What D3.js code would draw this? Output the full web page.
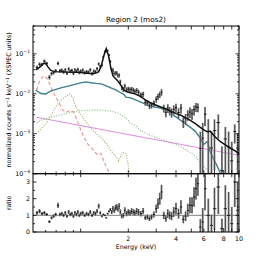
<!DOCTYPE html>
<html><head><meta charset="utf-8">
<script src="https://cdn.jsdelivr.net/npm/d3@7"></script>
<style>body{margin:0;background:#fff}svg{display:block}text{font-family:"DejaVu Sans",sans-serif}</style>
</head><body><svg id="c" width="266" height="266"></svg>
<script>
// ---- data ----
const energy = [0.53,0.55,0.57,0.59,0.61,0.635,0.655,0.675,0.695,0.72,0.74,0.76,0.78,0.80,0.82,0.84,0.86,0.88,0.90,0.92,0.94,0.96,0.98,1.00,1.03,1.06,1.09,1.12,1.15,1.18,1.21,1.24,1.27,1.30,1.33,1.36,1.39,1.42,1.45,1.48,1.51,1.54,1.57,1.60,1.63,1.66,1.69,1.72,1.75,1.78,1.82,1.86,1.90,1.95,2.00,2.05,2.10,2.15,2.20,2.26,2.32,2.40,2.48,2.56,2.64,2.72,2.80,2.90,3.00,3.08,3.16,3.24,3.35,3.45,3.55,3.65,3.75,3.87,4.00,4.15,4.30,4.45,4.60,4.75,4.90,5.05,5.20,5.35,5.50,5.70,5.90,6.10,6.40,6.70,7.00,7.40,7.80,8.20,8.60,9.00,9.40,9.80];
const flux = [0.046,0.055,0.055,0.066,0.058,0.026,0.032,0.034,0.038,0.058,0.038,0.039,0.0355,0.040,0.033,0.042,0.037,0.0385,0.033,0.040,0.037,0.041,0.0345,0.037,0.039,0.034,0.036,0.035,0.040,0.032,0.037,0.036,0.0425,0.056,0.049,0.052,0.084,0.115,0.115,0.121,0.094,0.065,0.041,0.039,0.0325,0.033,0.033,0.029,0.029,0.020,0.0143,0.013,0.0156,0.0127,0.0132,0.0127,0.0131,0.0124,0.0115,0.0121,0.011,0.0094,0.0098,0.0060,0.0059,0.0050,0.0052,0.0058,0.0073,0.0085,0.0096,0.011,0.0044,0.0034,0.0044,0.0038,0.0034,0.0041,0.0045,0.0034,0.0044,0.0020,0.0024,0.0030,0.0035,0.0032,0.0040,0.0047,0.0046,0.00043,0.00078,0.0031,0.00115,0.00044,0.0012,0.0019,0.00012,0.00074,0.00047,0.00021,0.00114,0.00044];
const ratio = [1.15,1.25,1.10,1.15,1.05,0.62,0.85,0.95,1.05,1.60,1.05,1.10,1.00,1.15,0.95,1.20,1.05,1.10,0.95,1.15,1.05,1.20,1.00,1.10,1.15,1.00,1.10,1.05,1.20,1.00,1.15,1.10,1.25,1.55,1.15,0.95,1.05,1.00,0.85,1.10,1.25,1.35,1.20,1.40,1.30,1.45,1.50,1.40,1.55,1.20,0.95,1.00,1.30,1.10,1.20,1.15,1.25,1.20,1.15,1.25,1.20,1.10,1.25,0.85,0.90,0.80,0.90,1.05,1.40,1.70,2.00,2.40,1.00,0.80,1.10,1.00,0.95,1.20,1.40,1.10,1.50,0.75,0.95,1.30,1.60,1.60,2.10,2.60,2.90,0.30,0.60,2.60,1.00,0.40,1.40,2.70,0.20,1.40,1.00,0.50,3.00,1.30];
const relErr = [0.10,0.10,0.09,0.09,0.09,0.12,0.10,0.10,0.10,0.10,0.10,0.10,0.10,0.10,0.10,0.10,0.10,0.10,0.10,0.10,0.10,0.10,0.10,0.10,0.10,0.10,0.10,0.10,0.10,0.10,0.10,0.10,0.10,0.09,0.08,0.07,0.06,0.05,0.05,0.05,0.06,0.07,0.10,0.12,0.12,0.12,0.12,0.12,0.12,0.13,0.14,0.14,0.14,0.14,0.14,0.14,0.14,0.14,0.14,0.15,0.15,0.15,0.15,0.16,0.16,0.17,0.17,0.17,0.18,0.18,0.18,0.18,0.22,0.24,0.24,0.24,0.25,0.25,0.25,0.27,0.27,0.30,0.30,0.30,0.30,0.30,0.28,0.25,0.25,1.6,1.4,0.5,1.0,1.6,0.9,0.6,3.0,1.0,1.4,2.0,0.5,1.3];

const totalModel = [[0.52,0.040],[0.55,0.046],[0.58,0.057],[0.60,0.058],[0.62,0.048],[0.645,0.039],[0.68,0.036],[0.8,0.035],[0.95,0.0345],[1.1,0.033],[1.2,0.032],[1.27,0.034],[1.3,0.036],[1.35,0.050],[1.4,0.090],[1.45,0.135],[1.5,0.090],[1.55,0.045],[1.6,0.028],[1.7,0.022],[1.8,0.016],[1.85,0.0135],[1.9,0.012],[2.0,0.011],[2.2,0.010],[2.4,0.0085],[2.6,0.0068],[2.8,0.0058],[3.0,0.0052],[3.2,0.0047],[3.5,0.0041],[3.7,0.0037],[4.0,0.0032],[4.3,0.0029],[4.6,0.0025],[4.9,0.0022],[5.3,0.0018],[5.7,0.00144],[6.0,0.00125],[6.3,0.00112],[6.6,0.00115],[6.8,0.00100],[7.0,0.00087],[7.6,0.00064],[8.2,0.00053],[8.8,0.00044],[9.4,0.00038],[10,0.00032]];
const warmModel = [[0.52,0.0125],[0.56,0.0102],[0.60,0.0099],[0.65,0.0119],[0.75,0.0141],[0.87,0.0163],[1.0,0.0188],[1.08,0.0199],[1.16,0.019],[1.25,0.0183],[1.35,0.0178],[1.45,0.0158],[1.55,0.0141],[1.67,0.0125],[1.8,0.0105],[1.88,0.0096],[1.93,0.0083],[2.07,0.0079],[2.4,0.0062],[2.77,0.0049],[3.2,0.0044],[3.7,0.0033],[4.27,0.0022],[4.93,0.00145],[5.3,0.00115],[5.7,0.00077],[6.0,0.00054],[6.3,0.00064],[6.6,0.00034],[7.1,0.00019],[7.6,0.000107],[7.8,0.00009]];
const coolModel1 = [[0.526,0.0125],[0.55,0.020],[0.58,0.028],[0.61,0.0253],[0.64,0.0168],[0.675,0.0106],[0.73,0.0059],[0.77,0.0039],[0.81,0.0035],[0.87,0.0039],[0.91,0.0033],[0.98,0.00155],[1.04,0.00087],[1.11,0.00055],[1.19,0.00041],[1.28,0.00029],[1.345,0.00032],[1.41,0.00019],[1.49,0.00012],[1.52,0.00008]];
const coolModel2 = [[0.526,0.00101],[0.565,0.00137],[0.608,0.00183],[0.653,0.0031],[0.70,0.0049],[0.755,0.0070],[0.81,0.0088],[0.85,0.0099],[0.89,0.0083],[0.92,0.0053],[0.98,0.0035],[1.05,0.0023],[1.13,0.00155],[1.21,0.00115],[1.345,0.0008],[1.445,0.00058],[1.55,0.00038],[1.67,0.00027],[1.74,0.00021],[1.84,0.00034],[1.93,0.00032],[1.99,0.00018],[2.03,0.00008]];
const hotModel = [[0.526,0.0019],[0.565,0.0022],[0.63,0.0025],[0.70,0.0028],[0.78,0.0031],[0.87,0.0035],[1.007,0.0038],[1.164,0.0039],[1.345,0.0039],[1.553,0.0037],[1.72,0.0033],[1.93,0.0025],[2.07,0.0018],[2.23,0.0016],[2.4,0.0012],[2.64,0.00097],[2.97,0.00082],[3.34,0.00069],[3.8,0.00058],[4.27,0.00048],[4.93,0.00034],[5.38,0.00026],[5.7,0.00018],[6.13,0.00014],[6.58,0.000105],[6.8,0.00008]];
const powerLaw = [[0.526,0.0026],[2.07,0.00093],[10,0.00029]];

const xTickVals = [1,2,3,4,5,6,7,8,9,10];
const xTickLabels = ["","2","","4","","6","","8","","10"];
const yMainTicks = [1e-4,1e-3,1e-2,1e-1];
const yMainExp = ["-4","-3","-2","-1"];
const yRatioTicks = [0,1,2,3];
const title = "Region 2 (mos2)";

// ---- layout ----
const L=33, R=239, T=26, MB=173.7, RB=232;
const svg = d3.select("#c");
const x = d3.scaleLog().domain([0.5,10]).range([L,R]);
const y = d3.scaleLog().domain([1e-4,0.5]).range([MB,T]).clamp(true);
const yr = d3.scaleLinear().domain([0,3.5]).range([RB,MB]).clamp(true);

const defs = svg.append("defs");
defs.append("clipPath").attr("id","cm").append("rect").attr("x",L).attr("y",T).attr("width",R-L).attr("height",MB-T);
defs.append("clipPath").attr("id","cr").append("rect").attr("x",L).attr("y",MB).attr("width",R-L).attr("height",RB-MB);

const gm = svg.append("g").attr("clip-path","url(#cm)");
const gr = svg.append("g").attr("clip-path","url(#cr)");

const line = d3.line().x(d=>x(d[0])).y(d=>y(d[1]));
function model(data, color, w, dash){
  gm.append("path").datum(data).attr("d",line).attr("fill","none").attr("stroke",color).attr("stroke-width",w).attr("stroke-dasharray",dash||null);
}
model(powerLaw,"#dd8ee0",1.1);
model(hotModel,"#86b886",1.1,"1,1.6");
model(coolModel2,"#a8a44e",1.1,"1,1.6");
model(coolModel1,"#ec9090",1.1,"3.5,2.5");
model(warmModel,"#3e7d8c",1.4);

const pts = energy.map((e,i)=>({e, f:flux[i], r:ratio[i], re:relErr[i], i}));
function halfBin(i){
  const lo = i>0 ? Math.sqrt(energy[i-1]*energy[i]) : energy[0]*0.98;
  const hi = i<energy.length-1 ? Math.sqrt(energy[i+1]*energy[i]) : energy[i]*1.02;
  return [lo,hi];
}
function drawPts(g, ys, val, lowFn, highFn){
  pts.forEach(p=>{
    const [lo,hi]=halfBin(p.i);
    const v=val(p), y1=ys(lowFn(p)), y2=ys(highFn(p));
    g.append("line").attr("x1",x(p.e)).attr("x2",x(p.e)).attr("y1",y1).attr("y2",y2).attr("stroke","#8e8e8e").attr("stroke-width",1.9);
    g.append("line").attr("x1",x(p.e)).attr("x2",x(p.e)).attr("y1",y1).attr("y2",y2).attr("stroke","#222").attr("stroke-width",0.6);
    g.append("line").attr("x1",x(lo)).attr("x2",x(hi)).attr("y1",ys(v)).attr("y2",ys(v)).attr("stroke","#000").attr("stroke-width",0.8);
  });
}
drawPts(gm, y, p=>p.f, p=>Math.max(p.f*(1-p.re),1e-6), p=>p.f*(1+p.re));
model(totalModel,"#111",1.5);

gr.append("line").attr("x1",L).attr("x2",R).attr("y1",yr(1)).attr("y2",yr(1)).attr("stroke","#999").attr("stroke-width",1.2);
drawPts(gr, yr, p=>p.r, p=>p.r*(1-p.re), p=>p.r*(1+p.re));

[[T,MB],[MB,RB]].forEach(([a,b])=>{
  svg.append("rect").attr("x",L).attr("y",a).attr("width",R-L).attr("height",b-a).attr("fill","none").attr("stroke","#000").attr("stroke-width",1);
});

const tk = svg.append("g").attr("stroke","#000").attr("stroke-width",0.8);
xTickVals.forEach(v=>{
  const px=x(v);
  [[T,1],[MB,-1],[MB,1],[RB,-1]].forEach(([yy,dir])=>{
    tk.append("line").attr("x1",px).attr("x2",px).attr("y1",yy).attr("y2",yy+dir*3.5);
  });
});
[0.6,0.7,0.8,0.9].forEach(v=>{
  const px=x(v);
  [[T,1],[MB,-1],[MB,1],[RB,-1]].forEach(([yy,dir])=>{
    tk.append("line").attr("x1",px).attr("x2",px).attr("y1",yy).attr("y2",yy+dir*2);
  });
});
for(let d=-4; d<0; d++){
  for(let m=1;m<10;m++){
    const v=m*Math.pow(10,d);
    if(v>0.5) break;
    const py=y(v), len = m===1?3.5:2;
    tk.append("line").attr("x1",L).attr("x2",L+len).attr("y1",py).attr("y2",py);
    tk.append("line").attr("x1",R).attr("x2",R-len).attr("y1",py).attr("y2",py);
  }
}
yRatioTicks.forEach(v=>{
  const py=yr(v);
  tk.append("line").attr("x1",L).attr("x2",L+3.5).attr("y1",py).attr("y2",py);
  tk.append("line").attr("x1",R).attr("x2",R-3.5).attr("y1",py).attr("y2",py);
});
[0.5,1.5,2.5].forEach(v=>{
  const py=yr(v);
  tk.append("line").attr("x1",L).attr("x2",L+2).attr("y1",py).attr("y2",py);
  tk.append("line").attr("x1",R).attr("x2",R-2).attr("y1",py).attr("y2",py);
});

const fs=6.3;
xTickVals.forEach((v,i)=>{
  if(!xTickLabels[i]) return;
  svg.append("text").attr("x",x(v)).attr("y",RB+9).attr("text-anchor","middle").attr("font-size",fs).text(xTickLabels[i]);
});
yMainTicks.forEach((v,i)=>{
  const t=svg.append("text").attr("x",L-3).attr("y",y(v)+2.2).attr("text-anchor","end").attr("font-size",fs);
  t.append("tspan").text("10");
  t.append("tspan").attr("dy",-3).attr("font-size",4.5).text("\u2212"+yMainExp[i].slice(1));
});
yRatioTicks.forEach(v=>{
  svg.append("text").attr("x",L-3).attr("y",yr(v)+2.2).attr("text-anchor","end").attr("font-size",fs).text(v);
});
svg.append("text").attr("x",(L+R)/2).attr("y",22).attr("text-anchor","middle").attr("font-size",7.3).text(title);
svg.append("text").attr("x",(L+R)/2).attr("y",249).attr("text-anchor","middle").attr("font-size",6.3).text("Energy (keV)");
const yl = svg.append("text").attr("transform",`translate(11,${(T+MB)/2}) rotate(-90)`).attr("text-anchor","middle").attr("font-size",6.3);
yl.append("tspan").text("normalized counts s");
yl.append("tspan").attr("dy",-2.5).attr("font-size",4.5).text("\u22121");
yl.append("tspan").attr("dy",2.5).text(" keV");
yl.append("tspan").attr("dy",-2.5).attr("font-size",4.5).text("\u22121");
yl.append("tspan").attr("dy",2.5).text(" (XSPEC units)");
svg.append("text").attr("transform",`translate(11,${(MB+RB)/2}) rotate(-90)`).attr("text-anchor","middle").attr("font-size",6.3).text("ratio");
</script></body></html>
